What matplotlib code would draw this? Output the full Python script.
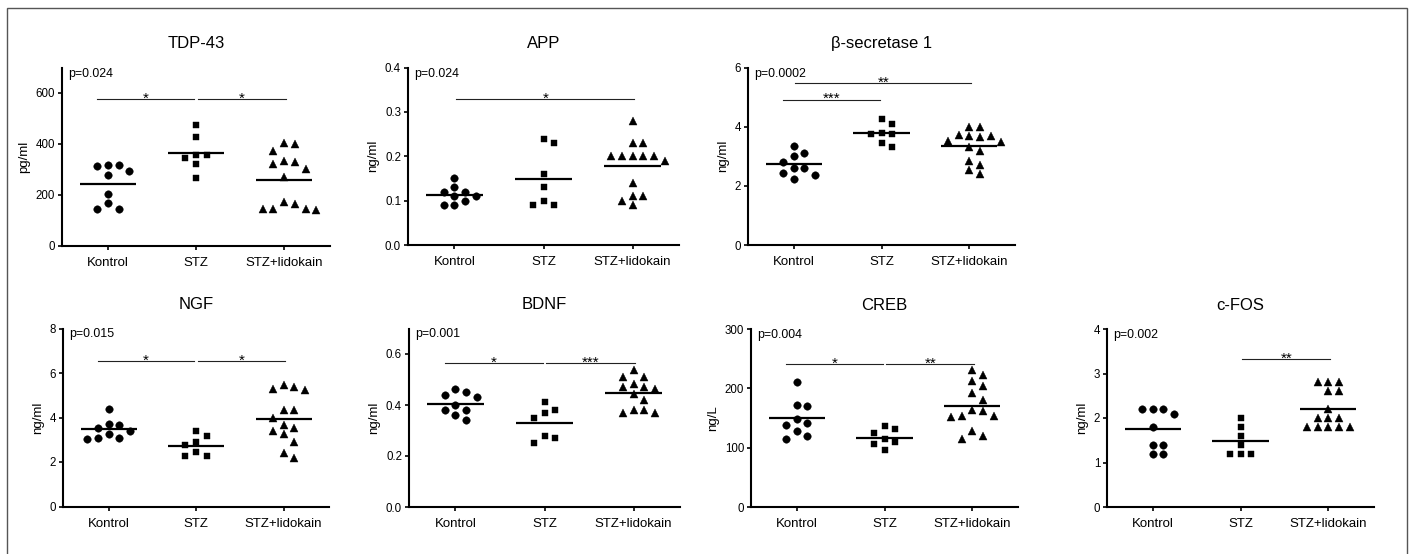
import numpy as np
import matplotlib
matplotlib.use('Agg')
import matplotlib.pyplot as plt
from matplotlib.patches import Rectangle

plt.rcParams['font.family'] = ['Liberation Sans', 'DejaVu Sans']

groups = ['Kontrol', 'STZ', 'STZ+lidokain']

# ---- data ----
tdp_kontrol = [313, 317, 317, 276, 293, 201, 166, 145, 145]
tdp_stz = [475, 428, 357, 345, 357, 320, 264]
tdp_lido = [401, 403, 372, 333, 320, 330, 300, 271, 162, 142, 139, 171, 142, 145]

app_kontrol = [0.15, 0.11, 0.12, 0.12, 0.13, 0.11, 0.10, 0.09, 0.09]
app_stz = [0.24, 0.23, 0.16, 0.13, 0.10, 0.09, 0.09]
app_lido = [0.28, 0.23, 0.23, 0.20, 0.20, 0.20, 0.20, 0.20, 0.19, 0.14, 0.11, 0.11, 0.10, 0.09]

bace_kontrol = [3.33, 3.02, 3.11, 2.82, 2.60, 2.60, 2.45, 2.38, 2.23]
bace_stz = [4.25, 4.10, 3.75, 3.75, 3.80, 3.30, 3.45]
bace_lido = [3.98, 4.00, 3.69, 3.69, 3.72, 3.47, 3.64, 3.50, 3.19, 3.32, 2.70, 2.83, 2.53, 2.40]

ngf_kontrol = [4.40, 3.67, 3.70, 3.40, 3.51, 3.25, 3.10, 3.03, 3.10]
ngf_stz = [3.40, 3.15, 2.88, 2.77, 2.47, 2.25, 2.25]
ngf_lido = [5.38, 5.23, 5.27, 5.45, 4.33, 4.33, 4.00, 3.67, 3.55, 3.40, 3.25, 2.88, 2.40, 2.16]

bdnf_kontrol = [0.43, 0.45, 0.463, 0.44, 0.40, 0.38, 0.38, 0.36, 0.34]
bdnf_stz = [0.41, 0.37, 0.38, 0.35, 0.28, 0.27, 0.25]
bdnf_lido = [0.537, 0.51, 0.51, 0.482, 0.463, 0.47, 0.47, 0.443, 0.42, 0.38, 0.38, 0.369, 0.369]

creb_kontrol = [211, 170, 172, 142, 138, 149, 128, 114, 119]
creb_stz = [132, 137, 124, 110, 106, 114, 96]
creb_lido = [231, 222, 212, 204, 192, 180, 161, 154, 152, 154, 163, 128, 115, 119]

cfos_kontrol = [2.2, 2.2, 2.2, 2.1, 1.8, 1.4, 1.4, 1.2, 1.2]
cfos_stz = [2.0, 1.8, 1.6, 1.4, 1.2, 1.2, 1.2]
cfos_lido = [2.8, 2.8, 2.8, 2.6, 2.6, 2.2, 2.0, 2.0, 2.0, 1.8, 1.8, 1.8, 1.8, 1.8]

titles = ['TDP-43', 'APP', 'β-secretase 1', 'NGF', 'BDNF', 'CREB', 'c-FOS']
ylabels = ['pg/ml', 'ng/ml', 'ng/ml', 'ng/ml', 'ng/ml', 'ng/L', 'ng/ml']
pvalues = ['p=0.024', 'p=0.024', 'p=0.0002', 'p=0.015', 'p=0.001', 'p=0.004', 'p=0.002']
yticks = [[0, 200, 400, 600], [0.0, 0.1, 0.2, 0.3, 0.4], [0, 2, 4, 6], [0, 2, 4, 6, 8],
          [0.0, 0.2, 0.4, 0.6], [0, 100, 200, 300], [0, 1, 2, 3, 4]]
ytick_labels = [['0', '200', '400', '600'], ['0.0', '0.1', '0.2', '0.3', '0.4'],
                ['0', '2', '4', '6'], ['0', '2', '4', '6', '8'],
                ['0.0', '0.2', '0.4', '0.6'], ['0', '100', '200', '300'], ['0', '1', '2', '3', '4']]
ymax = [700, 0.4, 6, 8, 0.7, 300, 4]
# significance comparisons: (group i, group j, bar level, label)
comparisons = [
    [(0, 1, 575, '*'), (1, 2, 575, '*')],
    [(0, 2, 0.328, '*')],
    [(0, 1, 4.91, '***'), (0, 2, 5.47, '**')],
    [(0, 1, 6.52, '*'), (1, 2, 6.52, '*')],
    [(0, 1, 0.563, '*'), (1, 2, 0.563, '***')],
    [(0, 1, 240.7, '*'), (1, 2, 240.7, '**')],
    [(1, 2, 3.33, '**')],
]
series = [
    (tdp_kontrol, tdp_stz, tdp_lido),
    (app_kontrol, app_stz, app_lido),
    (bace_kontrol, bace_stz, bace_lido),
    (ngf_kontrol, ngf_stz, ngf_lido),
    (bdnf_kontrol, bdnf_stz, bdnf_lido),
    (creb_kontrol, creb_stz, creb_lido),
    (cfos_kontrol, cfos_stz, cfos_lido),
]

# ---- layout (pixels) ----
W, H = 1410, 554
fig = plt.figure(figsize=(W / 100, H / 100), dpi=100)
boxes = [  # left, top, right, bottom in px
    (62, 67.5, 330, 245.5),
    (408, 67.5, 679, 245),
    (748, 67.5, 1015, 245),
    (63, 328.5, 329, 506.5),
    (409, 328.5, 680, 507),
    (751, 329, 1018, 507),
    (1107, 329, 1374, 507),
]
markers = ['o', 's', '^']
msizes = [5.4, 5.0, 5.6]
XL = (-0.52, 2.52)


def swarm(vals, px_per_unit, px_per_cat, step_px=10.7, diam=8.6):
    vals = np.asarray(vals, float)
    order = np.argsort(-vals, kind='stable')
    placed = []
    offs = np.zeros(len(vals))
    cands = [0]
    for k in range(1, 12):
        cands += [k, -k]
    for i in order:
        y = vals[i] * px_per_unit
        x = 0.0
        for k in cands:
            x = k * step_px
            if all(abs(x - px) >= diam or abs(y - py) >= diam for px, py in placed):
                break
        placed.append((x, y))
        offs[i] = x / px_per_cat
    return offs


for p in range(7):
    l, t, r, b = boxes[p]
    ax = fig.add_axes([l / W, 1 - b / H, (r - l) / W, (b - t) / H])
    ax.set_xlim(*XL)
    ax.set_ylim(0, ymax[p])
    px_per_unit = (b - t) / ymax[p]
    px_per_cat = (r - l) / (XL[1] - XL[0])
    for g, vals in enumerate(series[p]):
        offs = swarm(vals, px_per_unit, px_per_cat)
        ax.plot(g + offs, vals, linestyle='none', marker=markers[g], ms=msizes[g],
                color='black', mec='black', mew=0.3, clip_on=False, zorder=3)
        m = np.mean(vals)
        ax.plot([g - 0.32, g + 0.32], [m, m], color='black', lw=1.6,
                solid_capstyle='butt', zorder=4)
    for (i, j, yv, lab) in comparisons[p]:
        if j - i == 1 and i == 0:
            x1, x2 = i - 0.12, j - 0.02
        else:
            x1, x2 = i + 0.02, j + 0.02
        ax.plot([x1, x2], [yv, yv], color='#222222', lw=0.8, zorder=2)
        ax.annotate(lab, xy=((x1 + x2) / 2, yv), xytext=(0, -2.5),
                    textcoords='offset points', ha='center', va='baseline',
                    fontsize=11)
    ax.set_xticks([0, 1, 2])
    ax.set_xticklabels(groups, fontsize=9.5)
    ax.set_yticks(yticks[p])
    ax.set_yticklabels(ytick_labels[p], fontsize=8.3)
    ax.set_ylabel(ylabels[p], fontsize=9.5, labelpad=4)
    ax.set_title(titles[p], fontsize=12, pad=14)
    ax.text(0.022, 1.0, pvalues[p], transform=ax.transAxes, ha='left', va='top',
            fontsize=8.9)
    for s in ['top', 'right']:
        ax.spines[s].set_visible(False)
    for s in ['left', 'bottom']:
        ax.spines[s].set_linewidth(1.5)
    ax.tick_params(axis='both', direction='out', length=3, width=1.2, colors='black')
    ax.tick_params(axis='x', pad=5)
    ax.tick_params(axis='y', pad=2)
    ax.set_facecolor('none')

fig.patches.append(Rectangle((7 / W, -0.05), 1400 / W, 1 - 8 / H + 0.05,
                             transform=fig.transFigure, fill=False,
                             ec='#555555', lw=1.0))

fig.savefig('out.png', dpi=100)
